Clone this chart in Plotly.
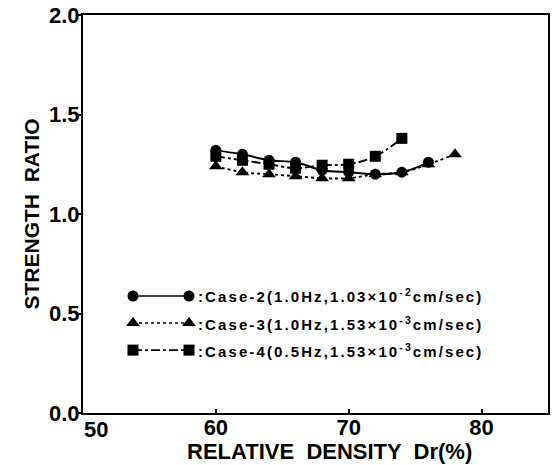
import plotly.graph_objects as go

# ---- data ----
dr_case2 = [60, 62, 64, 66, 68, 70, 72, 74, 76]
sr_case2 = [1.32, 1.30, 1.27, 1.26, 1.22, 1.21, 1.20, 1.21, 1.26]

dr_case3 = [60, 62, 64, 66, 68, 70, 72, 74, 76, 78]
sr_case3 = [1.24, 1.21, 1.20, 1.19, 1.18, 1.18, 1.20, 1.21, 1.25, 1.30]

dr_case4 = [60, 62, 64, 66, 68, 70, 72, 74]
sr_case4 = [1.29, 1.27, 1.25, 1.23, 1.245, 1.25, 1.29, 1.38]

series_names = [
    ":Case-2(1.0Hz,1.03×10<sup>-2</sup>cm/sec)",
    ":Case-3(1.0Hz,1.53×10<sup>-3</sup>cm/sec)",
    ":Case-4(0.5Hz,1.53×10<sup>-3</sup>cm/sec)",
]
x_tickvals = [60, 70, 80]
y_tickvals = [0, 0.5, 1.0, 1.5, 2.0]
y_ticktext = ["0.0", "0.5", "1.0", "1.5", "2.0"]

FONT = "Liberation Sans, Arial, sans-serif"

series = [
    (dr_case2, sr_case2, "circle", "solid", 11),
    (dr_case3, sr_case3, "triangle-up", "dot", 12),
    (dr_case4, sr_case4, "square", "dashdot", 11),
]

fig = go.Figure()
for (xs, ys, sym, dash, ms), name in zip(series, series_names):
    fig.add_trace(go.Scatter(
        x=xs, y=ys, mode="lines+markers", name=name,
        line=dict(color="black", width=1.9, dash=dash, shape="spline"),
        marker=dict(symbol=sym, size=ms, color="black"),
        showlegend=False,
    ))

# custom legend drawn on an overlay axis spanning the plot area (0..1)
leg_rows = [0.294, 0.226, 0.158]
leg_x0, leg_x1, leg_tx = 0.1075, 0.228, 0.243
for (xs, ys, sym, dash, ms), name, ry in zip(series, series_names, leg_rows):
    fig.add_trace(go.Scatter(
        x=[leg_x0, leg_x1], y=[ry, ry], mode="lines+markers",
        xaxis="x2", yaxis="y2",
        line=dict(color="black", width=1.6, dash=dash),
        marker=dict(symbol=sym, size=ms, color="black"),
        showlegend=False, hoverinfo="skip",
    ))
    fig.add_annotation(
        xref="x2 domain", yref="y2 domain", x=leg_tx, y=ry,
        xanchor="left", yanchor="middle", showarrow=False,
        text='<b><span style="letter-spacing:2.1px">' + name + "</span></b>",
        font=dict(family=FONT, size=15, color="black"),
    )

# "50" tick label (offset right as in the reference)
fig.add_annotation(
    xref="x", yref="paper", x=50, y=0, xshift=13, yshift=-2,
    xanchor="center", yanchor="top", showarrow=False,
    text="<b>50</b>", font=dict(family=FONT, size=22, color="black"),
)
# x-axis title
fig.add_annotation(
    xref="paper", yref="paper", x=0.5, y=0, xshift=14, yshift=-38,
    xanchor="center", yanchor="middle", showarrow=False,
    text="<b>RELATIVE  DENSITY  Dr(%)</b>",
    font=dict(family=FONT, size=22, color="black"),
)

fig.update_layout(
    width=556, height=465,
    margin=dict(l=83, r=8, t=15, b=52, autoexpand=False),
    paper_bgcolor="white", plot_bgcolor="white",
    font=dict(family=FONT, color="black"),
    xaxis=dict(
        range=[50, 85], tickvals=x_tickvals,
        ticktext=["<b>%d</b>" % v for v in x_tickvals],
        ticks="inside", ticklen=4, tickwidth=1.5, tickcolor="black",
        ticklabelstandoff=-6, automargin=False,
        showline=True, linewidth=2, linecolor="black", mirror=True,
        showgrid=False, zeroline=False,
        tickfont=dict(family=FONT, size=22, color="black"),
    ),
    yaxis=dict(
        range=[0, 2], tickvals=y_tickvals,
        ticktext=["<b>%s</b>" % t for t in y_ticktext],
        ticks="outside", ticklen=4, tickwidth=1.5, tickcolor="black",
        ticklabelstandoff=-7, automargin=False,
        showline=True, linewidth=2, linecolor="black", mirror=True,
        showgrid=False, zeroline=False,
        tickfont=dict(family=FONT, size=22, color="black"),
        title=dict(text="<b>STRENGTH  RATIO</b>", standoff=4,
                   font=dict(family=FONT, size=21, color="black")),
    ),
    xaxis2=dict(range=[0, 1], overlaying="x", visible=False, fixedrange=True),
    yaxis2=dict(range=[0, 1], overlaying="y", visible=False, fixedrange=True),
)

fig.write_html(
    "out.html",
    config={"displayModeBar": False},
    post_script="document.body.style.margin='0';document.body.style.overflow='hidden';",
)
